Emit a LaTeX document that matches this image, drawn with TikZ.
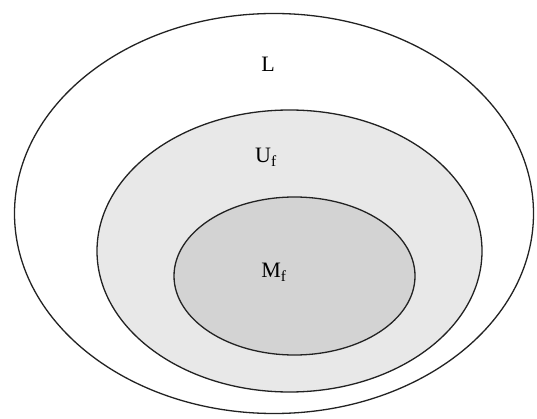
\documentclass[tikz,border=0pt]{standalone}
\usepackage{fontspec}
\setmainfont{Liberation Serif}
\usetikzlibrary{shapes.geometric}
\definecolor{midfill}{HTML}{E8E8E8}
\definecolor{innerfill}{HTML}{D3D3D3}
\definecolor{edge}{HTML}{222222}
\tikzset{
  setshape/.style={ellipse, draw=edge, line width=1.3pt, inner sep=0pt, outer sep=0pt},
  setlabel/.style={font=\fontsize{22}{24}\selectfont, inner sep=0pt}
}
\begin{document}
\begin{tikzpicture}[x=1pt,y=-1pt]
\useasboundingbox[fill=white] (0,0) rectangle (537,419);
\node[setshape, fill=white, minimum width=519pt, minimum height=400pt] (outer) at (274,213.5) {};
\node[setshape, fill=midfill, minimum width=385pt, minimum height=282pt] (middle) at (289.5,251) {};
\node[setshape, fill=innerfill, minimum width=241pt, minimum height=158pt] (inner) at (294.5,276) {};
\node[setlabel] (L) at (268,64) {L};
\node[setlabel] (U) at (266,157) {U\textsubscript{f}};
\node[setlabel] (M) at (274,272) {M\textsubscript{f}};
\end{tikzpicture}
\end{document}
